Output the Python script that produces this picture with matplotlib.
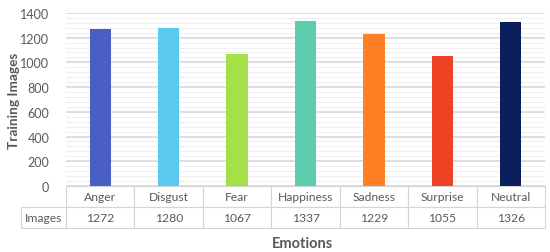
import matplotlib.pyplot as plt
from matplotlib.ticker import MultipleLocator

emotions = ['Anger', 'Disgust', 'Fear', 'Happiness', 'Sadness', 'Surprise', 'Neutral']
images = [1272, 1280, 1067, 1337, 1229, 1055, 1326]
colors = ['#4A5FC4', '#5BC8F0', '#A5E04A', '#5DCDB0', '#FF8024', '#EE4224', '#0B1F5E']

plt.rcParams['font.family'] = ['Lato', 'DejaVu Sans']
txt = '#595959'

fig = plt.figure(figsize=(5.5, 2.53), dpi=100)
ax = fig.add_axes([0.12, 0.261, 0.871, 0.684])

x = range(len(emotions))
ax.bar(x, images, width=0.31, color=colors, zorder=3)
ax.set_xlim(-0.5, len(emotions) - 0.5)
ax.set_ylim(0, 1400)
ax.yaxis.set_major_locator(MultipleLocator(200))
ax.yaxis.set_minor_locator(MultipleLocator(40))
ax.grid(axis='y', which='major', color='#D9D9D9', lw=1.2, zorder=0)
ax.grid(axis='y', which='minor', color='#EDEDED', lw=0.6, zorder=0)
ax.set_xticks([])
ax.tick_params(axis='y', which='both', length=0, labelsize=9, labelcolor=txt, pad=12)
for s in ax.spines.values():
    s.set_visible(False)

lw = 0.094
th = 0.243
cells = [[''] + emotions, ['Images'] + [str(v) for v in images]]
tab = ax.table(cellText=cells, cellLoc='center',
               colWidths=[lw] + [1 / 7] * 7,
               bbox=[-lw, -th, 1 + lw, th])
tab.auto_set_font_size(False)
for (r, c), cell in tab.get_celld().items():
    cell.set_edgecolor('#D4D4D4')
    cell.set_linewidth(0.8)
    cell.get_text().set_fontsize(8.7)
    cell.get_text().set_color(txt)
    if r == 0 and c == 0:
        cell.visible_edges = ''

ax.set_ylabel('Training Images', fontsize=9.8, fontweight='bold', color=txt)
ax.yaxis.set_label_coords(-0.097, 0.5)
fig.text(0.55, 0.02, 'Emotions', ha='center', fontsize=10.5, fontweight='bold', color=txt)

fig.savefig('out.png', dpi=100)
